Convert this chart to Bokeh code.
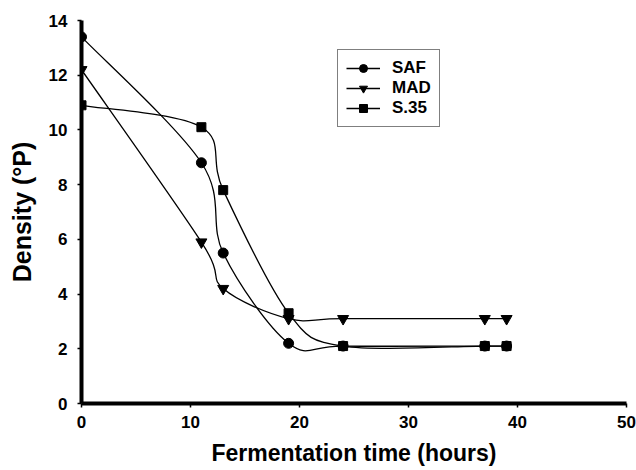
from bokeh.plotting import figure
from bokeh.models import Range1d, Legend, LegendItem, FixedTicker
from bokeh.embed import file_html
from bokeh.resources import INLINE

# ---- data ----
hours = [0, 11, 13, 19, 24, 37, 39]
saf = [13.4, 8.8, 5.5, 2.2, 2.1, 2.1, 2.1]
mad = [12.2, 5.9, 4.2, 3.1, 3.1, 3.1, 3.1]
s35 = [10.9, 10.1, 7.8, 3.3, 2.1, 2.1, 2.1]
series_names = ["SAF", "MAD", "S.35"]
x_ticks = [0, 10, 20, 30, 40, 50]
y_ticks = [0, 2, 4, 6, 8, 10, 12, 14]
x_title = "Fermentation time (hours)"
y_title = "Density (°P)"

FONT = "Liberation Sans"

p = figure(width=636, height=470, output_backend="svg", toolbar_location=None,
           x_range=Range1d(0, 50), y_range=Range1d(0, 14),
           min_border_left=81, min_border_right=10, min_border_top=20, min_border_bottom=67)
p.outline_line_color = None
p.xgrid.grid_line_color = None
p.ygrid.grid_line_color = None
p.background_fill_color = "white"
p.border_fill_color = "white"


def smooth_segments(xs, ys):
    """Catmull-Rom style Bezier control points (Excel-like smoothed line)."""
    n = len(xs)
    x0, y0, x1, y1, cx0, cy0, cx1, cy1 = [], [], [], [], [], [], [], []
    for i in range(n - 1):
        xp, yp = (xs[i - 1], ys[i - 1]) if i > 0 else (xs[i], ys[i])
        xn, yn = (xs[i + 2], ys[i + 2]) if i + 2 < n else (xs[i + 1], ys[i + 1])
        x0.append(xs[i]); y0.append(ys[i])
        x1.append(xs[i + 1]); y1.append(ys[i + 1])
        cx0.append(xs[i] + (xs[i + 1] - xp) / 6.0)
        cy0.append(ys[i] + (ys[i + 1] - yp) / 6.0)
        cx1.append(xs[i + 1] - (xn - xs[i]) / 6.0)
        cy1.append(ys[i + 1] - (yn - ys[i]) / 6.0)
    return dict(x0=x0, y0=y0, x1=x1, y1=y1, cx0=cx0, cy0=cy0, cx1=cx1, cy1=cy1)


markers = ["circle", "inverted_triangle", "square"]
sizes = [10, 11, 9]
items = []
for name, vals, mk, sz in zip(series_names, [saf, mad, s35], markers, sizes):
    seg = smooth_segments(hours, vals)
    b = p.bezier(x0=seg["x0"], y0=seg["y0"], x1=seg["x1"], y1=seg["y1"],
                 cx0=seg["cx0"], cy0=seg["cy0"], cx1=seg["cx1"], cy1=seg["cy1"],
                 line_color="black", line_width=1.3)
    s = p.scatter(hours, vals, marker=mk, size=sz, fill_color="black", line_color="black")
    items.append(LegendItem(label=name, renderers=[b, s]))

legend = Legend(items=items, location=(256, 276), orientation="vertical",
                border_line_color="black", border_line_width=1.2,
                background_fill_color="white", background_fill_alpha=1.0,
                padding=8, margin=0, spacing=0,
                glyph_width=34, glyph_height=20, label_height=18, label_standoff=12,
                label_text_font=FONT, label_text_font_style="bold",
                label_text_font_size="17px", label_text_color="black")
p.add_layout(legend)

for ax in (p.xaxis[0], p.yaxis[0]):
    ax.axis_line_width = 4
    ax.axis_line_color = "black"
    ax.major_tick_line_width = 1.5
    ax.major_tick_line_color = "black"
    ax.major_tick_out = 4
    ax.major_tick_in = 0
    ax.minor_tick_line_color = None
    ax.major_label_text_font = FONT
    ax.major_label_text_font_style = "bold"
    ax.major_label_text_font_size = "17px"
    ax.major_label_text_color = "black"
    ax.axis_label_text_font = FONT
    ax.axis_label_text_font_style = "bold"
    ax.axis_label_text_color = "black"

p.xaxis.ticker = FixedTicker(ticks=x_ticks)
p.yaxis.ticker = FixedTicker(ticks=y_ticks)
p.xaxis.axis_label = x_title
p.yaxis.axis_label = y_title
p.xaxis.axis_label_text_font_size = "23px"
p.yaxis.axis_label_text_font_size = "25px"
p.xaxis.major_label_standoff = 8
p.yaxis.major_label_standoff = 10
p.xaxis.axis_label_standoff = 9
p.yaxis.axis_label_standoff = 10

open("out.html", "w").write(file_html(p, INLINE))
